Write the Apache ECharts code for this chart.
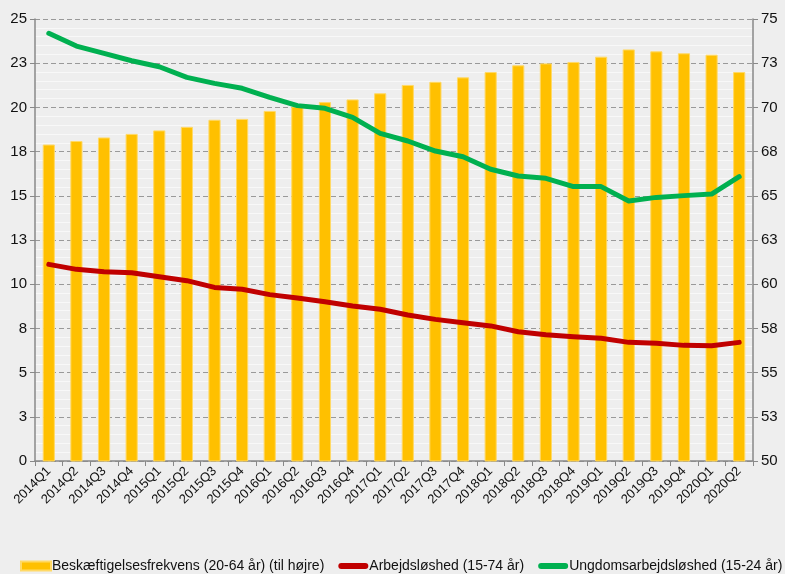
<!DOCTYPE html>
<html>
<head>
<meta charset="utf-8">
<script src="https://cdn.jsdelivr.net/npm/echarts@6/dist/echarts.min.js"></script>
<style>
  html, body { margin: 0; padding: 0; background: #eeeeee; }
  #chart { width: 785px; height: 574px; }
</style>
</head>
<body>
<div id="chart"></div>
<script>
// kvartaler
var quarters = ['2014Q1', '2014Q2', '2014Q3', '2014Q4', '2015Q1', '2015Q2', '2015Q3', '2015Q4',
  '2016Q1', '2016Q2', '2016Q3', '2016Q4', '2017Q1', '2017Q2', '2017Q3', '2017Q4',
  '2018Q1', '2018Q2', '2018Q3', '2018Q4', '2019Q1', '2019Q2', '2019Q3', '2019Q4',
  '2020Q1', '2020Q2'];

// beskæftigelsesfrekvens, højre akse
var employment = [67.9, 68.1, 68.3, 68.5, 68.7, 68.9, 69.3, 69.35, 69.8, 70.05, 70.3, 70.45, 70.8,
  71.27, 71.45, 71.7, 72.0, 72.38, 72.49, 72.57, 72.87, 73.28, 73.17, 73.06, 72.98, 72.0];

// arbejdsløshed, venstre akse
var unemployment = [11.12, 10.84, 10.71, 10.65, 10.42, 10.2, 9.82, 9.71, 9.41, 9.22, 9.01, 8.77, 8.58,
  8.26, 8.01, 7.82, 7.64, 7.31, 7.14, 7.03, 6.94, 6.71, 6.66, 6.54, 6.52, 6.71];

// ungdomsarbejdsløshed, venstre akse
var youthUnemployment = [24.19, 23.47, 23.06, 22.64, 22.3, 21.7, 21.36, 21.08, 20.57, 20.1, 19.95, 19.44, 18.53,
  18.1, 17.53, 17.21, 16.5, 16.12, 15.99, 15.52, 15.52, 14.71, 14.91, 15.01, 15.1, 16.08];

var leftTicks = ['0', '3', '5', '8', '10', '13', '15', '18', '20', '23', '25'];
var rightTicks = ['50', '53', '55', '58', '60', '63', '65', '68', '70', '73', '75'];

var seriesNames = ['Beskæftigelsesfrekvens (20-64 år) (til højre)', 'Arbejdsløshed (15-74 år)', 'Ungdomsarbejdsløshed (15-24 år)'];

var lineIcon = 'path://M3,0 L27,0 A3,3 0 0 1 27,6 L3,6 A3,3 0 0 1 3,0 Z';
var font = '"Liberation Sans Narrow", "Liberation Sans", sans-serif';

var myChart = echarts.init(document.getElementById('chart'));
myChart.setOption({
  backgroundColor: '#eeeeee',
  textStyle: { fontFamily: font },
  animation: false,
  grid: { left: 35, right: 32, top: 19, bottom: 113 },
  legend: {
    left: 20,
    top: 559,
    padding: 0,
    itemGap: 14,
    itemWidth: 30,
    itemHeight: 9,
    textStyle: { fontSize: 14, lineHeight: 14, color: '#111', fontFamily: font, padding: [0, 0, 0, -4] },
    data: [
      { name: seriesNames[0], icon: 'rect' },
      { name: seriesNames[1], icon: lineIcon },
      { name: seriesNames[2], icon: lineIcon }
    ]
  },
  xAxis: {
    type: 'category',
    data: quarters,
    axisLine: { lineStyle: { color: '#888', width: 1.5 } },
    axisTick: { show: true, length: 5, lineStyle: { color: '#888' } },
    axisLabel: { rotate: 45, fontSize: 13, color: '#111', margin: 8, interval: 0 }
  },
  yAxis: [
    {
      type: 'value',
      min: 0,
      max: 25,
      interval: 2.5,
      axisLine: { show: true, lineStyle: { color: '#888', width: 1.5 } },
      axisTick: { show: true, length: 5, lineStyle: { color: '#888' } },
      axisLabel: {
        fontSize: 15, color: '#111', margin: 8,
        formatter: function (v) { return leftTicks[Math.round(v / 2.5)]; }
      },
      splitLine: { lineStyle: { color: '#999', type: [5, 3], width: 1.2 } },
      minorTick: { show: false, splitNumber: 5 },
      minorSplitLine: { show: true, lineStyle: { color: '#f8f8f8', width: 1 } }
    },
    {
      type: 'value',
      min: 50,
      max: 75,
      interval: 2.5,
      position: 'right',
      axisLine: { show: true, lineStyle: { color: '#888', width: 1.5 } },
      axisTick: { show: true, length: 5, lineStyle: { color: '#888' } },
      axisLabel: {
        fontSize: 15, color: '#111', margin: 8,
        formatter: function (v) { return rightTicks[Math.round((v - 50) / 2.5)]; }
      },
      splitLine: { show: false }
    }
  ],
  series: [
    {
      name: seriesNames[0],
      type: 'bar',
      yAxisIndex: 1,
      barWidth: '44%',
      data: employment,
      itemStyle: { color: '#FFC000', borderColor: '#FFD966', borderWidth: 1 }
    },
    {
      name: seriesNames[1],
      type: 'line',
      data: unemployment,
      symbol: 'none',
      lineStyle: { color: '#C00000', width: 5, cap: 'round', join: 'round' },
      itemStyle: { color: '#C00000' }
    },
    {
      name: seriesNames[2],
      type: 'line',
      data: youthUnemployment,
      symbol: 'none',
      lineStyle: { color: '#00B050', width: 5, cap: 'round', join: 'round' },
      itemStyle: { color: '#00B050' }
    }
  ]
});
</script>
</body>
</html>
